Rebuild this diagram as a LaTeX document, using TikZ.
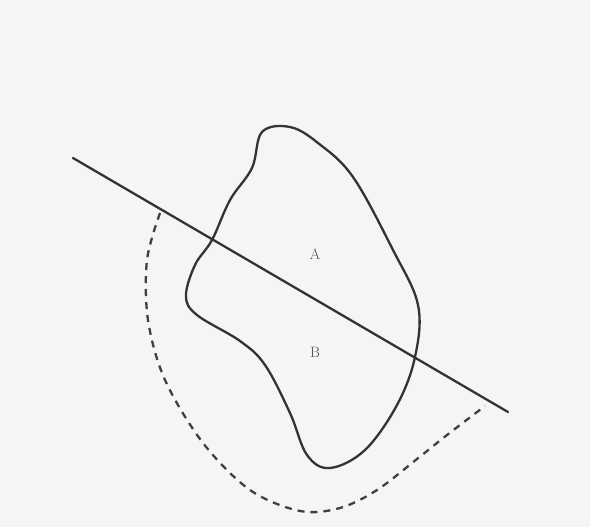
\documentclass[tikz,border=0pt]{standalone}
\begin{document}
\begin{tikzpicture}[x=1pt,y=-1pt,
  ink/.style={draw=black!80, line width=2.3pt, line join=round, line cap=round},
  dashline/.style={draw=black!75, line width=2.3pt, dash pattern=on 7pt off 6pt},
  lbl/.style={font=\fontsize{15}{15}\selectfont, text=black!70, inner sep=0pt}]
\fill[black!4] (0,0) rectangle (590,527);
\useasboundingbox (0,0) rectangle (590,527);
% region outline
\draw[ink] plot[smooth cycle, tension=0.6] coordinates {
 (262,132) (290,127) (318,143) (353,177) (393,250) (418,305) (415,357)
 (397,405) (365,450) (330,468) (307,455) (290,413) (265,365) (240,341)
 (197,315) (186,296) (195,265) (212,240) (230,200) (252,168)};
% cutting line
\coordinate (l1) at (73,158);
\coordinate (l2) at (508,412);
\draw[ink] (l1) -- (l2);
% dashed curve
\draw[dashline] plot[smooth, tension=0.55] coordinates {
 (160,213) (147,260) (148,320) (165,380) (203,443) (250,490) (300,511)
 (340,508) (377,490) (417,459) (447,435) (485,406)};
\node[lbl] (A) at (315,254) {A};
\node[lbl] (B) at (315,352) {B};
\end{tikzpicture}
\end{document}
